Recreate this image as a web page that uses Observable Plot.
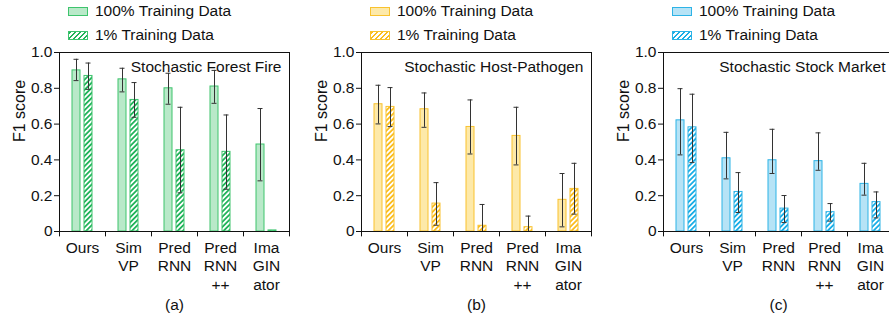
<!DOCTYPE html>
<html>
<head>
<meta charset="utf-8">
<script src="https://cdn.jsdelivr.net/npm/d3@7"></script>
<script src="https://cdn.jsdelivr.net/npm/@observablehq/plot@0.6"></script>
<style>
  html, body { margin: 0; padding: 0; background: #fff; overflow: hidden; width: 889px; height: 319px; }
  #wrap { display: flex; flex-wrap: nowrap; width: 889px; overflow: hidden; font-family: "Liberation Sans", Arial, sans-serif; }
  .panel { position: relative; width: 302px; height: 319px; flex: none; overflow: hidden; }
  .panel svg { max-width: none !important; display: block; }
  .legend { position: absolute; left: 68px; top: 0; font-size: 15.5px; color: #111; }
  .row { position: absolute; left: 0; display: flex; align-items: center; white-space: nowrap; height: 20px; }
  .sw { width: 18px; height: 7px; margin-right: 7px; box-sizing: content-box; }
</style>
</head>
<body>
<div id="wrap"></div>
<script>
const methods = ["Ours", "SimVP", "PredRNN", "PredRNN++", "IMAGINator"];
const tickLabels = ["Ours", "Sim\nVP", "Pred\nRNN", "Pred\nRNN\n++", "Ima\nGIN\nator"];
const seriesNames = ["100% Training Data", "1% Training Data"];
const yTicks = [0, 0.2, 0.4, 0.6, 0.8, 1.0];

const titles = ["Stochastic Forest Fire", "Stochastic Host-Pathogen", "Stochastic Stock Market"];
const captions = ["(a)", "(b)", "(c)"];

// (a) Stochastic Forest Fire
const fireFull   = [0.900, 0.850, 0.800, 0.810, 0.486];
const fireFullLo = [0.843, 0.780, 0.711, 0.716, 0.283];
const fireFullHi = [0.962, 0.912, 0.884, 0.900, 0.687];
const fireOne    = [0.869, 0.735, 0.454, 0.445, 0.006];
const fireOneLo  = [0.794, 0.638, 0.216, 0.236, null];
const fireOneHi  = [0.941, 0.832, 0.694, 0.651, null];

// (b) Stochastic Host-Pathogen
const hostFull   = [0.711, 0.683, 0.584, 0.534, 0.177];
const hostFullLo = [0.601, 0.582, 0.433, 0.372, 0.026];
const hostFullHi = [0.817, 0.774, 0.735, 0.694, 0.324];
const hostOne    = [0.696, 0.156, 0.032, 0.024, 0.238];
const hostOneLo  = [0.586, 0.035, -0.090, -0.040, 0.097];
const hostOneHi  = [0.804, 0.273, 0.151, 0.086, 0.381];

// (c) Stochastic Stock Market
const stockFull   = [0.621, 0.409, 0.398, 0.393, 0.266];
const stockFullLo = [0.428, 0.294, 0.324, 0.342, 0.203];
const stockFullHi = [0.798, 0.554, 0.571, 0.551, 0.381];
const stockOne    = [0.582, 0.221, 0.128, 0.108, 0.164];
const stockOneLo  = [0.385, 0.106, 0.050, 0.058, 0.076];
const stockOneHi  = [0.767, 0.329, 0.201, 0.156, 0.221];

const palettes = [
  {fill: "#b9e9c9", stroke: "#3ec46d", hatch: "#22b35b"},
  {fill: "#fde9a9", stroke: "#f9c22e", hatch: "#fbbd1f"},
  {fill: "#b6e3f6", stroke: "#2db3e6", hatch: "#1aaee6"}
];

const panels = [
  [fireFull, fireFullLo, fireFullHi, fireOne, fireOneLo, fireOneHi],
  [hostFull, hostFullLo, hostFullHi, hostOne, hostOneLo, hostOneHi],
  [stockFull, stockFullLo, stockFullHi, stockOne, stockOneLo, stockOneHi]
];

const labelOf = Object.fromEntries(methods.map((m, i) => [m, tickLabels[i]]));
const wrap = document.getElementById("wrap");
const NS = "http://www.w3.org/2000/svg";
const FS = 15.5;

panels.forEach((arrs, p) => {
  const [full, fullLo, fullHi, one, oneLo, oneHi] = arrs;
  const pal = palettes[p];
  const pid = "hatch" + p;
  const rows = methods.map((m, i) => ({
    method: m, full: full[i], fullLo: fullLo[i], fullHi: fullHi[i],
    one: one[i], oneLo: oneLo[i], oneHi: oneHi[i]
  }));
  const errOne = rows.filter(d => d.oneLo != null);

  const defs = () => {
    const g = document.createElementNS(NS, "defs");
    const pat = document.createElementNS(NS, "pattern");
    pat.setAttribute("id", pid);
    pat.setAttribute("patternUnits", "userSpaceOnUse");
    pat.setAttribute("width", "3.6");
    pat.setAttribute("height", "3.6");
    pat.setAttribute("patternTransform", "rotate(45)");
    const bg = document.createElementNS(NS, "rect");
    bg.setAttribute("width", "3.6"); bg.setAttribute("height", "3.6"); bg.setAttribute("fill", "#fff");
    const st = document.createElementNS(NS, "rect");
    st.setAttribute("width", "1.8"); st.setAttribute("height", "3.6"); st.setAttribute("fill", pal.hatch);
    pat.appendChild(bg); pat.appendChild(st); g.appendChild(pat);
    return g;
  };

  const chart = Plot.plot({
    width: 302,
    height: 319,
    marginLeft: 59,
    marginRight: 13,
    marginTop: 52,
    marginBottom: 88,
    style: {fontFamily: "'Liberation Sans', Arial, sans-serif", fontSize: FS + "px", color: "#111", background: "transparent", maxWidth: "none"},
    x: {domain: methods, padding: 0},
    y: {domain: [0, 1]},
    marks: [
      defs,
      Plot.barY(rows, {x: "method", y: "full", fill: pal.fill, stroke: pal.stroke, strokeWidth: 1, insetLeft: 13, insetRight: 25}),
      Plot.barY(rows, {x: "method", y: "one", fill: `url(#${pid})`, stroke: pal.stroke, strokeWidth: 1, insetLeft: 25, insetRight: 13}),
      Plot.ruleX(rows, {x: "method", y1: "fullLo", y2: "fullHi", dx: -6, stroke: "#333", strokeWidth: 1, clip: true}),
      Plot.tickY(rows, {x: "method", y: "fullLo", stroke: "#333", insetLeft: 14.5, insetRight: 26.5, clip: true}),
      Plot.tickY(rows, {x: "method", y: "fullHi", stroke: "#333", insetLeft: 14.5, insetRight: 26.5}),
      Plot.ruleX(errOne, {x: "method", y1: "oneLo", y2: "oneHi", dx: 6, stroke: "#333", strokeWidth: 1, clip: true}),
      Plot.tickY(errOne, {x: "method", y: "oneLo", stroke: "#333", insetLeft: 26.5, insetRight: 14.5, clip: true}),
      Plot.tickY(errOne, {x: "method", y: "oneHi", stroke: "#333", insetLeft: 26.5, insetRight: 14.5}),
      Plot.frame({stroke: "#111", strokeWidth: 1}),
      Plot.axisY({ticks: yTicks, tickFormat: d => d === 0 ? "0" : d.toFixed(1), tickSize: 5, tickPadding: 2, label: null, fontSize: FS}),
      Plot.axisX({tickSize: 0, tickPadding: 8, tickFormat: d => labelOf[d], lineHeight: 1.2, label: null, fontSize: FS}),
      Plot.ruleX(methods, {x: d => d, y1: 0, y2: -0.03, dx: -23, stroke: "#111"}),
      Plot.ruleX(methods.slice(-1), {x: d => d, y1: 0, y2: -0.03, dx: 23, stroke: "#111"}),
      Plot.text([titles[p]], {frameAnchor: "top-right", dx: -8, dy: 15, textAnchor: "end", lineAnchor: "middle", fontSize: FS, fill: "#111"}),
      Plot.text(["F1 score"], {frameAnchor: "left", dx: -40, rotate: -90, fontSize: 16, fill: "#111"}),
      Plot.text([captions[p]], {frameAnchor: "bottom", dy: 78, fontSize: FS, fill: "#111"})
    ]
  });

  const div = document.createElement("div");
  div.className = "panel";
  if (p === 2) div.style.width = "285px";
  div.appendChild(chart);
  const leg = document.createElement("div");
  leg.className = "legend";
  seriesNames.forEach((name, k) => {
    const row = document.createElement("div");
    row.className = "row";
    row.style.top = (k === 0 ? 1 : 25) + "px";
    const sw = document.createElement("span");
    sw.className = "sw";
    sw.style.border = `1px solid ${pal.stroke}`;
    sw.style.background = k === 0 ? pal.fill :
      `repeating-linear-gradient(135deg, ${pal.hatch} 0 1.8px, #fff 1.8px 3.6px)`;
    const tx = document.createElement("span");
    tx.textContent = name;
    row.appendChild(sw); row.appendChild(tx);
    leg.appendChild(row);
  });
  div.appendChild(leg);
  wrap.appendChild(div);
});
</script>
</body>
</html>
